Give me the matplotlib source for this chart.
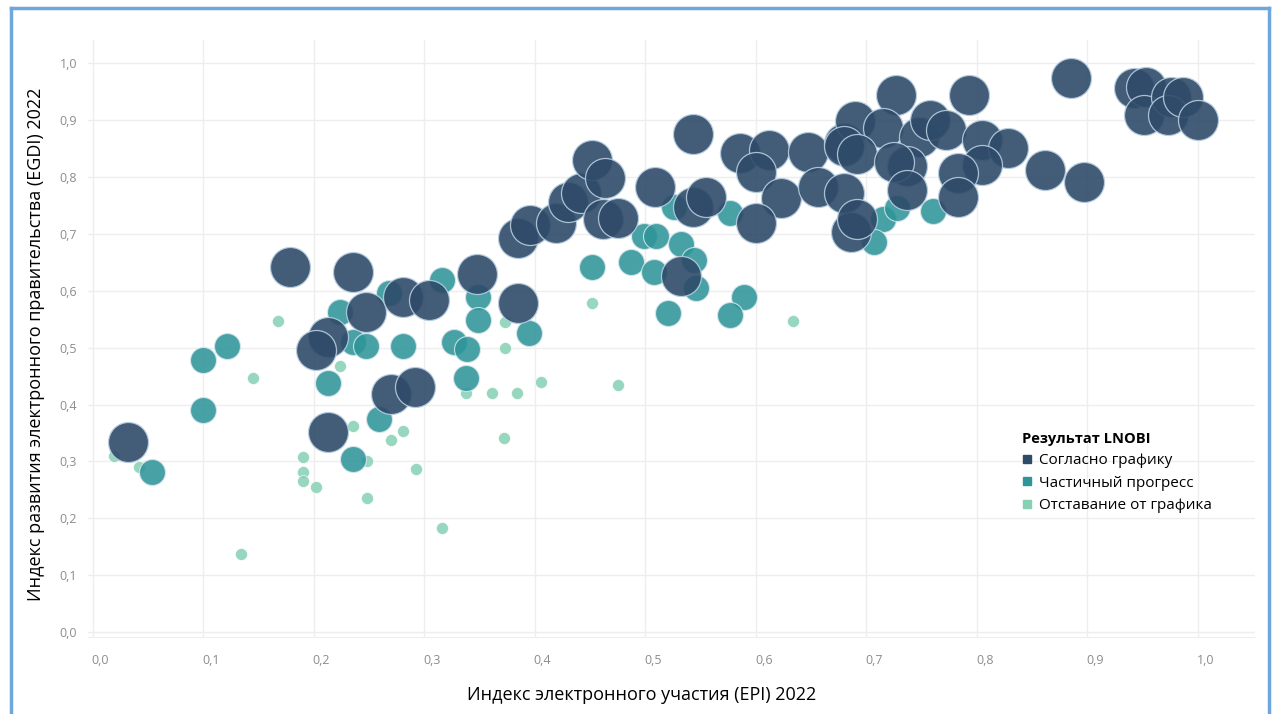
import matplotlib.pyplot as plt
from matplotlib.lines import Line2D
from matplotlib.transforms import ScaledTranslation

plt.rcParams['font.family'] = ['Open Sans', 'DejaVu Sans']

# --- data (EPI, EGDI) ---
on_track_x = [0.032, 0.179, 0.236, 0.247, 0.213, 0.202, 0.213, 0.281, 0.304, 0.270,
              0.292, 0.348, 0.385, 0.385, 0.396, 0.419, 0.430, 0.442, 0.452, 0.464,
              0.462, 0.475, 0.509, 0.543, 0.543, 0.555, 0.532, 0.586, 0.612, 0.600,
              0.623, 0.600, 0.647, 0.656, 0.680, 0.680, 0.686, 0.885, 0.942, 0.953,
              0.951, 0.976, 0.973, 0.987, 1.000, 0.727, 0.793, 0.690, 0.715, 0.748,
              0.758, 0.772, 0.680, 0.692, 0.805, 0.828, 0.805, 0.862, 0.897, 0.737,
              0.725, 0.737, 0.783, 0.783, 0.692]
on_track_y = [0.335, 0.642, 0.633, 0.563, 0.519, 0.496, 0.351, 0.589, 0.584, 0.418,
              0.430, 0.630, 0.579, 0.693, 0.716, 0.719, 0.756, 0.772, 0.830, 0.798,
              0.725, 0.728, 0.782, 0.875, 0.747, 0.765, 0.625, 0.842, 0.847, 0.809,
              0.763, 0.719, 0.844, 0.782, 0.860, 0.772, 0.702, 0.974, 0.956, 0.958,
              0.909, 0.940, 0.909, 0.940, 0.900, 0.944, 0.944, 0.897, 0.886, 0.870,
              0.900, 0.882, 0.853, 0.839, 0.865, 0.851, 0.821, 0.812, 0.791, 0.818,
              0.826, 0.777, 0.807, 0.765, 0.725]

partial_x = [0.054, 0.100, 0.122, 0.100, 0.224, 0.236, 0.247, 0.213, 0.259, 0.236,
             0.281, 0.316, 0.327, 0.339, 0.338, 0.349, 0.349, 0.268, 0.395, 0.452,
             0.487, 0.499, 0.510, 0.508, 0.532, 0.544, 0.546, 0.521, 0.589, 0.577,
             0.577, 0.526, 0.715, 0.728, 0.760, 0.707]
partial_y = [0.281, 0.479, 0.503, 0.391, 0.563, 0.509, 0.502, 0.437, 0.374, 0.304,
             0.503, 0.619, 0.509, 0.497, 0.447, 0.588, 0.549, 0.596, 0.526, 0.642,
             0.651, 0.695, 0.695, 0.632, 0.681, 0.654, 0.605, 0.561, 0.588, 0.558,
             0.737, 0.747, 0.725, 0.745, 0.739, 0.686]

behind_x = [0.019, 0.042, 0.168, 0.145, 0.224, 0.236, 0.270, 0.281, 0.293, 0.190,
            0.190, 0.190, 0.202, 0.248, 0.248, 0.316, 0.134, 0.338, 0.452, 0.373,
            0.373, 0.634, 0.406, 0.475, 0.361, 0.384, 0.372]
behind_y = [0.309, 0.291, 0.547, 0.446, 0.468, 0.363, 0.337, 0.354, 0.286, 0.307,
            0.282, 0.265, 0.256, 0.235, 0.300, 0.184, 0.137, 0.421, 0.579, 0.544,
            0.500, 0.546, 0.440, 0.435, 0.420, 0.420, 0.342]

labels = ['Согласно графику', 'Частичный прогресс', 'Отставание от графика']
colors = ['#2e4b69', '#2e9599', '#86d1b4']
ticks = [0.0, 0.1, 0.2, 0.3, 0.4, 0.5, 0.6, 0.7, 0.8, 0.9, 1.0]
tick_labels = ['0,0', '0,1', '0,2', '0,3', '0,4', '0,5', '0,6', '0,7', '0,8', '0,9', '1,0']

fig = plt.figure(figsize=(12.77, 7.14), dpi=100)
ax = fig.add_axes([0.069, 0.108, 0.914, 0.836])

ax.scatter(behind_x, behind_y, s=75, color=colors[2], alpha=0.85,
           edgecolors='white', linewidths=0.5, zorder=2)
ax.scatter(partial_x, partial_y, s=350, color=colors[1], alpha=0.88,
           edgecolors='#d6e6ee', linewidths=0.8, zorder=3)
ax.scatter(on_track_x, on_track_y, s=830, color=colors[0], alpha=0.9,
           edgecolors='#b8cde0', linewidths=0.9, zorder=4)

ax.set_xlim(-0.004, 1.052)
ax.set_ylim(-0.008, 1.04)
ax.set_xticks(ticks)
ax.set_xticklabels(tick_labels)
ax.set_yticks(ticks)
ax.set_yticklabels(tick_labels)
ax.tick_params(colors='#8c8c8c', labelsize=9, length=0)
ax.tick_params(axis='x', pad=12)
ax.tick_params(axis='y', pad=8)
# x tick labels sit a little to the right of their grid line
shift = ScaledTranslation(8 / 100, 0, fig.dpi_scale_trans)
for lbl in ax.get_xticklabels():
    lbl.set_transform(lbl.get_transform() + shift)
ax.grid(True, color='#eeeeee', linewidth=1)
ax.set_axisbelow(True)
for side in ['top', 'right', 'left']:
    ax.spines[side].set_visible(False)
ax.spines['bottom'].set_color('#eeeeee')

ax.set_xlabel('Индекс электронного участия (EPI) 2022', fontsize=13)
ax.xaxis.set_label_coords(0.474, -0.083)
ax.set_ylabel('Индекс развития электронного правительства (EGDI) 2022', fontsize=13)
ax.yaxis.set_label_coords(-0.037, 0.49)

handles = [Line2D([0], [0], marker='s', linestyle='', markersize=6, color=c)
           for c in colors]
leg = ax.legend(handles, labels, title='Результат LNOBI', loc='upper left',
                bbox_to_anchor=(0.792, 0.41), bbox_transform=fig.transFigure,
                frameon=False, fontsize=11, title_fontsize=10.5,
                handlelength=0.7, handletextpad=0.4, labelspacing=0.48,
                borderpad=0.2)
leg.get_title().set_fontweight('bold')
leg._legend_box.align = 'left'

# blue frame around the picture
frame_kw = dict(color='#6ea6de', linewidth=2.5, transform=fig.transFigure)
fig.add_artist(Line2D([0.009, 0.009], [0.0, 0.989], **frame_kw))
fig.add_artist(Line2D([0.009, 0.994], [0.989, 0.989], **frame_kw))
fig.add_artist(Line2D([0.994, 0.994], [0.0, 0.989], **frame_kw))

fig.savefig('out.png', dpi=100, facecolor='white')
